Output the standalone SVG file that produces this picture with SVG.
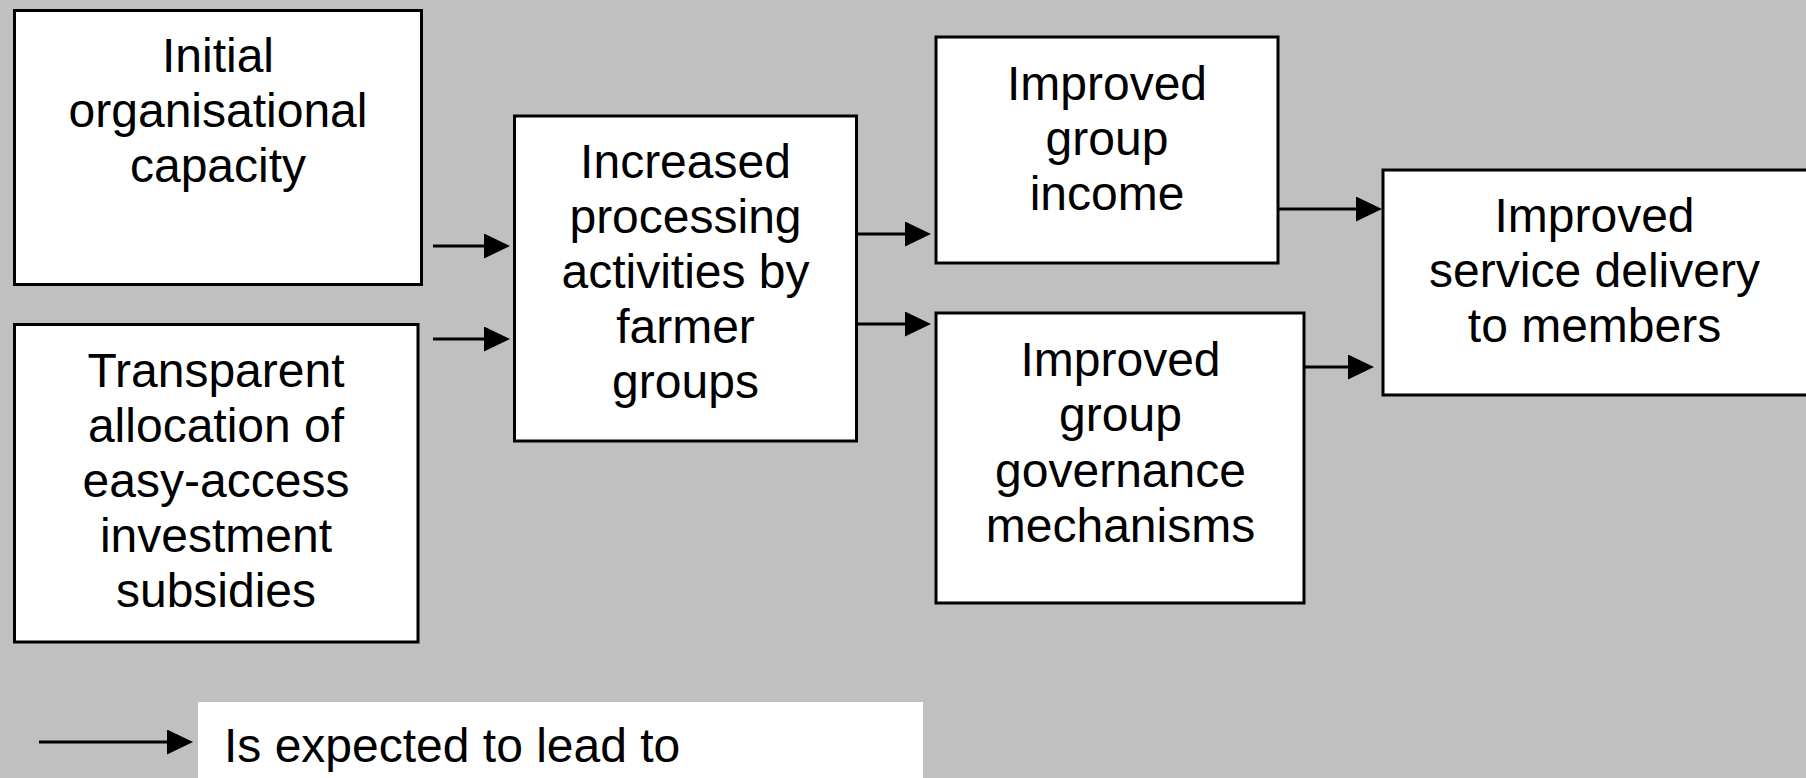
<svg xmlns="http://www.w3.org/2000/svg" width="1806" height="778" viewBox="0 0 1806 778">
<style>
.box{fill:#fff;stroke:#000;stroke-width:3}
.t{font-family:"Liberation Sans",Arial,sans-serif;font-size:48px;fill:#000;text-anchor:middle}
.c{stroke:#000;stroke-width:3;fill:none;marker-end:url(#ah)}
</style>
<defs>
<marker id="ah" markerUnits="userSpaceOnUse" markerWidth="26" markerHeight="25" refX="13" refY="12.5" orient="auto">
<path d="M0,0 L26,12.5 L0,25 Z" fill="#000"/>
</marker>
</defs>
<rect x="0" y="0" width="1806" height="778" fill="#c0c0c0"/>
<g id="n1">
<rect class="box" x="14.5" y="10.5" width="407" height="274"/>
<text class="t" x="218" y="72">Initial</text>
<text class="t" x="218" y="127">organisational</text>
<text class="t" x="218" y="182">capacity</text>
</g>
<g id="n2">
<rect class="box" x="14.5" y="324.5" width="403.5" height="317.5"/>
<text class="t" x="216" y="387">Transparent</text>
<text class="t" x="216" y="442">allocation of</text>
<text class="t" x="216" y="497">easy-access</text>
<text class="t" x="216" y="552">investment</text>
<text class="t" x="216" y="607">subsidies</text>
</g>
<g id="n3">
<rect class="box" x="514.5" y="116" width="342" height="325"/>
<text class="t" x="685.5" y="178">Increased</text>
<text class="t" x="685.5" y="233">processing</text>
<text class="t" x="685.5" y="288">activities by</text>
<text class="t" x="685.5" y="343">farmer</text>
<text class="t" x="685.5" y="398">groups</text>
</g>
<g id="n4">
<rect class="box" x="936" y="37" width="342" height="226"/>
<text class="t" x="1107" y="100">Improved</text>
<text class="t" x="1107" y="155">group</text>
<text class="t" x="1107" y="210">income</text>
</g>
<g id="n5">
<rect class="box" x="936" y="313" width="368" height="290"/>
<text class="t" x="1120.5" y="376">Improved</text>
<text class="t" x="1120.5" y="431">group</text>
<text class="t" x="1120.5" y="487">governance</text>
<text class="t" x="1120.5" y="542">mechanisms</text>
</g>
<g id="n6">
<rect class="box" x="1383" y="170" width="440" height="225"/>
<text class="t" x="1594.5" y="232">Improved</text>
<text class="t" x="1594.5" y="287">service delivery</text>
<text class="t" x="1594.5" y="342">to members</text>
</g>
<g id="connectors">
<line class="c" x1="433" y1="246" x2="497" y2="246"/>
<line class="c" x1="433" y1="339" x2="497" y2="339"/>
<line class="c" x1="857" y1="234" x2="918" y2="234"/>
<line class="c" x1="857" y1="324" x2="918" y2="324"/>
<line class="c" x1="1278" y1="209" x2="1369" y2="209"/>
<line class="c" x1="1304" y1="367" x2="1361" y2="367"/>
</g>
<g id="legend">
<rect x="198" y="702" width="725" height="80" fill="#fff"/>
<line class="c" x1="39" y1="742" x2="180" y2="742"/>
<text class="t" x="224" y="762" style="text-anchor:start">Is expected to lead to</text>
</g>
</svg>
